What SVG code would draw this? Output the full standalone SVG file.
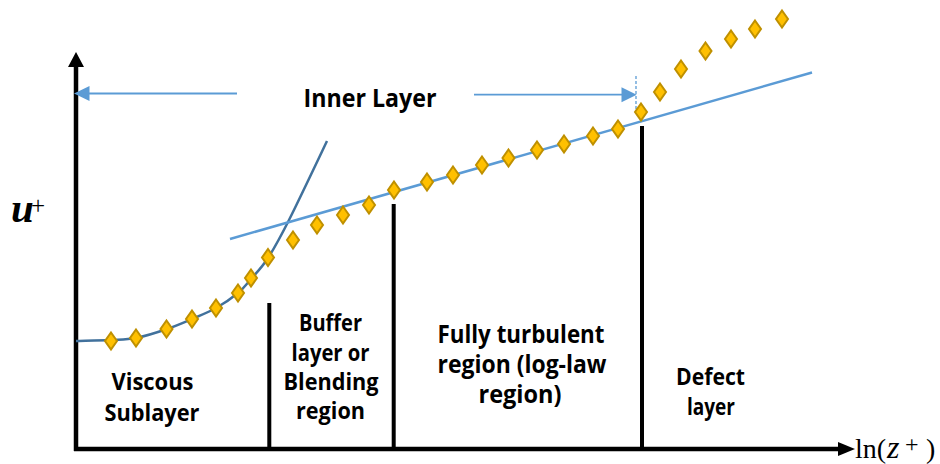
<svg xmlns="http://www.w3.org/2000/svg" xmlns:xlink="http://www.w3.org/1999/xlink" width="940" height="464" viewBox="0 0 940 464">
  <style>
    .lbl { font-family: "Open Sans", "Liberation Sans", sans-serif; font-weight: bold; fill: #000; text-anchor: middle; }
    .s23 { font-size: 24px; }
    .s25 { font-size: 25.5px; }
    .axis { stroke: #000; stroke-width: 4.5; fill: none; }
    .div { stroke: #000; stroke-width: 4; fill: none; }
    .blue { stroke: #5B9BD5; fill: none; }
    .math { font-family: "Liberation Serif", "DejaVu Serif", serif; fill: #000; }
  </style>
  <defs>
    <polygon id="dia" points="0,-8.5 6,0 0,8.5 -6,0" fill="#FFC000" stroke="#BF9000" stroke-width="2"/>
  </defs>
  <rect width="940" height="464" fill="#fff"/>

  <g id="axes">
    <line class="axis" x1="76" y1="451" x2="76" y2="64"/>
    <polygon points="76,52 68,67 84,67" fill="#000"/>
    <line class="axis" x1="74" y1="449" x2="842" y2="449"/>
    <polygon points="855,449 838,442 838,456" fill="#000"/>
  </g>

  <g id="axis-labels">
    <text class="math" x="11" y="222" font-size="41" font-weight="bold" font-style="italic">u</text>
    <text class="math" x="31" y="214" font-size="25">+</text>
    <text class="math" x="855" y="458" font-size="28">ln(</text>
    <text class="math" x="887" y="458" font-size="32" font-style="italic">z</text>
    <text class="math" x="905" y="452" font-size="24">+</text>
    <text class="math" x="926" y="458" font-size="28">)</text>
  </g>

  <g id="dividers">
    <line class="div" x1="269.3" y1="303" x2="269.3" y2="449"/>
    <line class="div" x1="393.7" y1="204" x2="393.7" y2="449"/>
    <line class="div" x1="642" y1="126" x2="642" y2="449"/>
  </g>

  <g id="connectors">
    <g id="inner-layer-arrow-left">
      <line class="blue" stroke-width="1.8" x1="237" y1="93.5" x2="88" y2="93.5"/>
      <polygon points="74,93.5 89.5,86 89.5,101" fill="#5B9BD5"/>
    </g>
    <g id="inner-layer-arrow-right">
      <line class="blue" stroke-width="1.8" x1="474" y1="94.7" x2="624" y2="94.7"/>
      <polygon points="636.7,94.7 621.5,87.2 621.5,102.2" fill="#5B9BD5"/>
      <line class="blue" stroke-width="1.3" stroke-dasharray="3,2" x1="636" y1="76" x2="636" y2="113"/>
    </g>
  </g>

  <g id="viscous-curve">
    <path d="M76,341 C81.8,340.8 101,340.5 111,340 C121,339.5 126.7,339.8 136,338 C145.3,336.2 157.7,332.2 167,329 C176.3,325.8 183.8,322.5 192,319 C200.2,315.5 208.3,312.3 216,308 C223.7,303.7 232.2,297.8 238,293 C243.8,288.2 246,284.8 251,279 C256,273.2 261.7,267.8 268,258 C274.3,248.2 279.2,239.5 289,220 C298.8,200.5 320.7,154.2 327,141" fill="none" stroke="#41719C" stroke-width="2.5"/>
  </g>

  <g id="log-law-line">
    <line class="blue" stroke-width="2.5" x1="230" y1="239" x2="812" y2="72.5"/>
  </g>

  <g id="data-points">
    <use xlink:href="#dia" x="111" y="341"/>
    <use xlink:href="#dia" x="136" y="338"/>
    <use xlink:href="#dia" x="166.5" y="329"/>
    <use xlink:href="#dia" x="192" y="319"/>
    <use xlink:href="#dia" x="216" y="308"/>
    <use xlink:href="#dia" x="238" y="293"/>
    <use xlink:href="#dia" x="251" y="278"/>
    <use xlink:href="#dia" x="268" y="257.5"/>
    <use xlink:href="#dia" x="293" y="240"/>
    <use xlink:href="#dia" x="317" y="225"/>
    <use xlink:href="#dia" x="343" y="215"/>
    <use xlink:href="#dia" x="369" y="205"/>
    <use xlink:href="#dia" x="394" y="190"/>
    <use xlink:href="#dia" x="427" y="182"/>
    <use xlink:href="#dia" x="453" y="175"/>
    <use xlink:href="#dia" x="482" y="165"/>
    <use xlink:href="#dia" x="508.5" y="158"/>
    <use xlink:href="#dia" x="537" y="150"/>
    <use xlink:href="#dia" x="564" y="144"/>
    <use xlink:href="#dia" x="593" y="136"/>
    <use xlink:href="#dia" x="618" y="129"/>
    <use xlink:href="#dia" x="641" y="112"/>
    <use xlink:href="#dia" x="660" y="92"/>
    <use xlink:href="#dia" x="681" y="69"/>
    <use xlink:href="#dia" x="705.5" y="51"/>
    <use xlink:href="#dia" x="731" y="39"/>
    <use xlink:href="#dia" x="755" y="29"/>
    <use xlink:href="#dia" x="782" y="19"/>
  </g>

  <g id="inner-layer-label">
    <text class="lbl s25" x="370" y="107" textLength="133" lengthAdjust="spacingAndGlyphs">Inner Layer</text>
  </g>
  <g id="viscous-sublayer">
    <text class="lbl s23" x="152.5" y="390" textLength="82" lengthAdjust="spacingAndGlyphs">Viscous</text>
    <text class="lbl s23" x="152" y="421" textLength="95" lengthAdjust="spacingAndGlyphs">Sublayer</text>
  </g>
  <g id="buffer-layer">
    <text class="lbl s23" x="330.5" y="331" textLength="63" lengthAdjust="spacingAndGlyphs">Buffer</text>
    <text class="lbl s23" x="330.5" y="361" textLength="78" lengthAdjust="spacingAndGlyphs">layer or</text>
    <text class="lbl s23" x="331" y="390" textLength="95" lengthAdjust="spacingAndGlyphs">Blending</text>
    <text class="lbl s23" x="330.5" y="419" textLength="69" lengthAdjust="spacingAndGlyphs">region</text>
  </g>
  <g id="log-law-region">
    <text class="lbl s25" x="521" y="343" textLength="167" lengthAdjust="spacingAndGlyphs">Fully turbulent</text>
    <text class="lbl s25" x="522" y="373" textLength="169" lengthAdjust="spacingAndGlyphs">region (log-law</text>
    <text class="lbl s25" x="520" y="403" textLength="83" lengthAdjust="spacingAndGlyphs">region)</text>
  </g>
  <g id="defect-layer">
    <text class="lbl s23" x="710.5" y="385" textLength="69" lengthAdjust="spacingAndGlyphs">Defect</text>
    <text class="lbl s23" x="711" y="415" textLength="48" lengthAdjust="spacingAndGlyphs">layer</text>
  </g>
</svg>
